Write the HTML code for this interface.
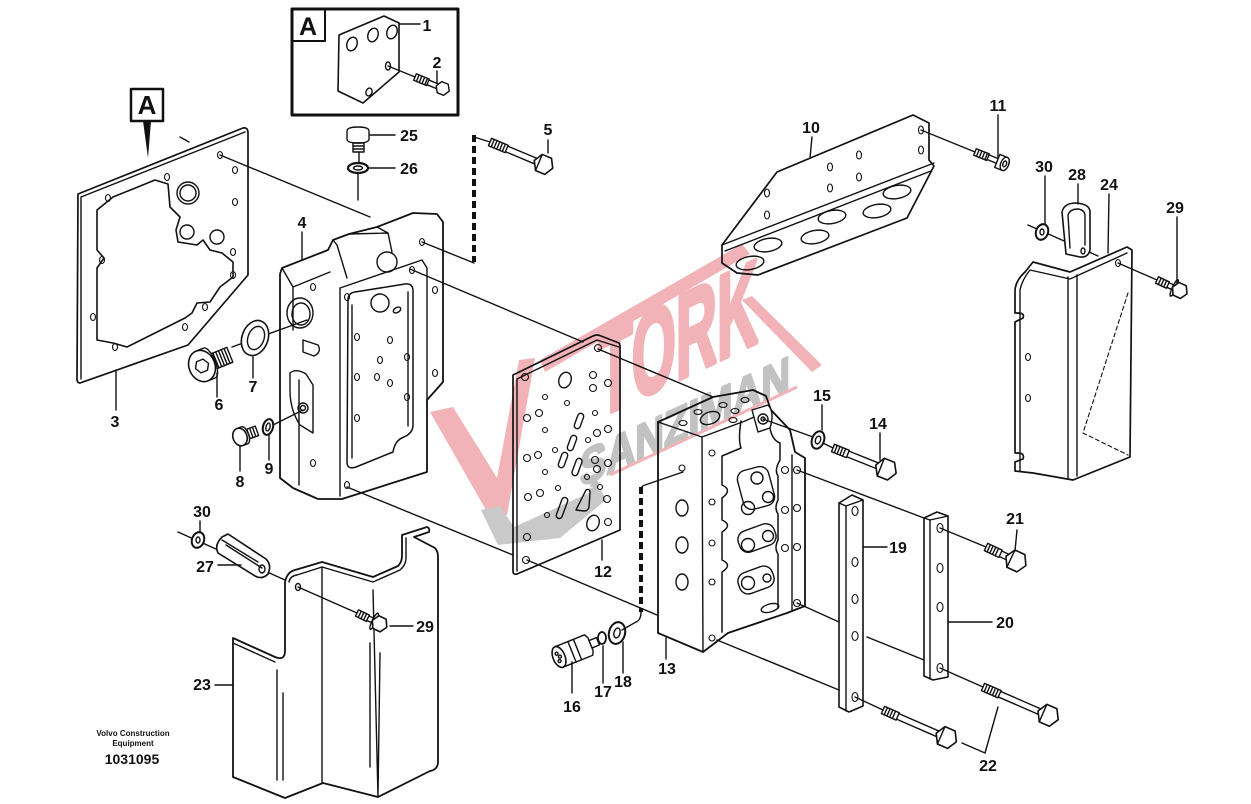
<!DOCTYPE html>
<html><head><meta charset="utf-8">
<style>
html,body{margin:0;padding:0;background:#fff;}
svg{display:block}
.lb{font-family:"Liberation Sans",Arial,sans-serif;font-weight:bold;font-size:16px;fill:#111;text-anchor:middle}
</style></head><body>
<svg width="1251" height="804" viewBox="0 0 1251 804" xmlns="http://www.w3.org/2000/svg">
<rect width="1251" height="804" fill="#fff"/>

<!-- watermark -->
<g>
 <polygon fill="#f2b3b8" points="430,412 453,407 497,478 519,360 535,358 507,515 490,517"/>
 <polygon fill="#f2b3b8" points="465,450 478,447 495,475 490,490"/>
 <polygon fill="#f2b3b8" points="540,360 742,244 750,254 545,372"/>
 <polygon fill="#f2b3b8" points="742,300 752,296 822,365 812,372"/>
 <text transform="translate(598,418) skewY(-25.5)" font-family="Liberation Sans, Arial, sans-serif" font-weight="bold" font-size="120" textLength="160" lengthAdjust="spacingAndGlyphs" fill="#f2b3b8" stroke="#f2b3b8" stroke-width="5" stroke-linejoin="round">TORK</text>
 <polygon fill="#c9c9c9" points="481,510 500,506 514,527 600,488 606,500 560,538 498,545"/>
 <text transform="translate(580,487) skewY(-24.7)" font-family="Liberation Sans, Arial, sans-serif" font-weight="bold" font-size="50" textLength="210" lengthAdjust="spacingAndGlyphs" fill="#c2c2c2" stroke="#c2c2c2" stroke-width="2.5" stroke-linejoin="round">ŞANZIMAN</text>
 <line x1="610" y1="475" x2="797" y2="387" stroke="#f2b3b8" stroke-width="3"/>
</g>

<g fill="none" stroke="#111" stroke-width="1.4" stroke-linejoin="round" stroke-linecap="round">

<!-- inset A -->
<rect x="292" y="9" width="166" height="106" stroke-width="3"/>
<rect x="292" y="9" width="33" height="32" stroke-width="2"/>
<path d="M339,35 L384,16 L399,23 L399,72 L363,103 L338,91 Z" stroke-width="1.6"/>
<ellipse cx="352" cy="44" rx="5" ry="7" transform="rotate(20 352 44)"/>
<ellipse cx="373" cy="35" rx="5" ry="7" transform="rotate(20 373 35)"/>
<ellipse cx="392" cy="32" rx="5" ry="7" transform="rotate(20 392 32)"/>
<ellipse cx="388" cy="66" rx="2.5" ry="4"/>
<ellipse cx="369" cy="92" rx="3" ry="4" transform="rotate(20 369 92)"/>
<line x1="399" y1="24" x2="420" y2="24"/>
<line x1="388" y1="66" x2="415" y2="77"/>
<line x1="437" y1="71" x2="437" y2="83"/>
<g transform="translate(415,77) rotate(22.5)">
 <rect x="0" y="-3.5" width="14" height="7" fill="#fff"/>
 <path d="M3,-3.5 L3,3.5 M6,-3.5 L6,3.5 M9,-3.5 L9,3.5 M12,-3.5 L12,3.5"/>
 <path d="M14,-2.5 L24,-2.5 M14,2.5 L24,2.5"/>
 <polygon points="37,0 33.5,6 26.5,6 23,0 26.5,-6 33.5,-6" fill="#fff"/>
</g>

<!-- big A label -->
<rect x="131" y="89" width="32" height="32" stroke-width="2.5"/>
<polygon points="143,121 151,121 148,158" fill="#111" stroke="none"/>
<line x1="180" y1="137" x2="189" y2="142"/>

<!-- gasket 3 -->
<path d="M78,194 L243,128 Q248,127 248,133 L248,275 L188,345 L80,383 Q77,383 77,379 Z" stroke-width="1.7"/>
<path d="M81,197 L245,132 M81,197 L81,379"/>
<path d="M97,210 L113,197 L155,180 L168,184 L170,207 L180,217 L176,230 L178,242 L197,245 L203,240 L210,250 L222,253 L233,262 L233,277 L220,287 L210,302 L197,303 L192,313 L185,318 L127,347 L113,343 L97,340 L97,268 L104,258 L97,250 Z" stroke-width="1.6"/>
<circle cx="188" cy="193" r="11"/><circle cx="188" cy="193" r="8"/>
<circle cx="187" cy="232" r="7"/><circle cx="217" cy="237" r="7"/>
<g stroke-width="1.1">
<ellipse cx="220" cy="155" rx="2.5" ry="3.5"/><ellipse cx="235" cy="170" rx="2.5" ry="3.5"/>
<ellipse cx="235" cy="202" rx="2.5" ry="3.5"/><ellipse cx="167" cy="177" rx="2.5" ry="3.5"/>
<ellipse cx="108" cy="198" rx="2.5" ry="3.5"/><ellipse cx="102" cy="260" rx="2.5" ry="3.5"/>
<ellipse cx="93" cy="317" rx="2.5" ry="3.5"/><ellipse cx="115" cy="347" rx="2.5" ry="3.5"/>
<ellipse cx="185" cy="327" rx="2.5" ry="3.5"/><ellipse cx="205" cy="307" rx="2.5" ry="3.5"/>
<ellipse cx="233" cy="252" rx="2.5" ry="3.5"/><ellipse cx="233" cy="275" rx="2.5" ry="3.5"/>
</g>
<line x1="116" y1="370" x2="116" y2="410"/>
<line x1="220" y1="155" x2="370" y2="217"/>

<!-- valve body 4 -->
<path d="M282,268 L328,250 L333,240 L349,234 L377,227 L413,213 L437,214 L443,222 L443,382 L427,400 L427,472 L342,499 L318,499 L293,488 L280,478 L280,274 Z" stroke-width="1.8"/>
<path d="M340,288 L340,496 M340,288 L422,260 L427,268 L427,400"/>
<path d="M293,287 L293,330 M299,380 L299,485 M282,268 L293,287 L330,272"/>
<path d="M333,240 L337,245 L347,278 M349,234 L388,233 L392,252 M377,227 L388,233"/>
<path d="M348,300 Q348,293 355,292 L405,284 Q413,283 413,291 L413,425 Q413,433 404,437 Q395,440 393,452 L356,467 Q347,470 347,462 Z" stroke-width="1.5"/>
<path d="M352,305 L352,458 M408,292 L408,426"/>
<ellipse cx="300" cy="313" rx="13" ry="15"/><ellipse cx="301" cy="314" rx="9" ry="11"/>
<path d="M303,340 L318,345 Q322,352 314,356 L303,352 Z"/>
<path d="M290,373 Q296,368 306,374 L313,385 L313,433 L300,425 Q290,410 290,390 Z"/>
<circle cx="303" cy="408" r="5"/><circle cx="303" cy="408" r="2.5"/>
<circle cx="387" cy="262" r="10"/><circle cx="380" cy="303" r="9"/>
<ellipse cx="397" cy="310" rx="4" ry="2.5" transform="rotate(-30 397 310)"/>
<g stroke-width="1.1">
<ellipse cx="313" cy="287" rx="2.5" ry="3.5"/><ellipse cx="347" cy="297" rx="2.5" ry="3.5"/>
<ellipse cx="435" cy="290" rx="2.5" ry="3.5"/><ellipse cx="435" cy="373" rx="2.5" ry="3.5"/>
<ellipse cx="313" cy="463" rx="2.5" ry="3.5"/><ellipse cx="347" cy="485" rx="2.5" ry="3.5"/>
<ellipse cx="422" cy="242" rx="2.5" ry="3.5"/><ellipse cx="412" cy="270" rx="2.5" ry="3.5"/>
<ellipse cx="357" cy="337" rx="2.5" ry="3.5"/><ellipse cx="390" cy="340" rx="2.5" ry="3.5"/>
<ellipse cx="380" cy="360" rx="2.5" ry="3.5"/><ellipse cx="407" cy="357" rx="2.5" ry="3.5"/>
<ellipse cx="357" cy="377" rx="2.5" ry="3.5"/><ellipse cx="377" cy="377" rx="2.5" ry="3.5"/>
<ellipse cx="390" cy="383" rx="2.5" ry="3.5"/><ellipse cx="407" cy="397" rx="2.5" ry="3.5"/>
<ellipse cx="357" cy="418" rx="2.5" ry="3.5"/>
</g>
<line x1="302" y1="232" x2="302" y2="259"/>

<!-- 25 / 26 -->
<path d="M347,131 Q347,127 358,127 Q369,127 369,131 L369,139 Q369,143 358,143 Q347,143 347,139 Z" fill="#fff"/>
<rect x="353" y="143" width="11" height="9"/>
<path d="M353,146 L364,146 M353,149 L364,149"/>
<line x1="359" y1="152" x2="359" y2="163"/>
<ellipse cx="358" cy="168" rx="10" ry="5" stroke-width="2.2"/>
<ellipse cx="358" cy="168" rx="4.5" ry="2"/>
<line x1="358" y1="174" x2="358" y2="200"/>
<line x1="370" y1="135" x2="395" y2="135"/>
<line x1="368" y1="168" x2="395" y2="168"/>

<!-- dashed 1 + bolt 5 -->
<line x1="474" y1="135" x2="474" y2="262" stroke-width="4" stroke-dasharray="7 4" stroke-linecap="butt"/>
<line x1="474" y1="137" x2="490" y2="142"/>
<line x1="422" y1="242" x2="474" y2="263"/>
<g transform="translate(490,142) rotate(22.7)">
 <rect x="0" y="-4" width="18" height="8" fill="#fff"/>
 <path d="M3,-4 L3,4 M6,-4 L6,4 M9,-4 L9,4 M12,-4 L12,4 M15,-4 L15,4"/>
 <path d="M18,-3 L50,-3 M18,3 L50,3"/>
 <polygon points="68,0 63,8.7 53,8.7 48,0 53,-8.7 63,-8.7" fill="#fff" stroke-width="1.6"/>
 <path d="M53,-8.7 L53,8.7"/>
</g>
<line x1="548" y1="140" x2="548" y2="153"/>

<!-- 6 plug -->
<g transform="translate(202,366) rotate(-22)">
 <rect x="12" y="-8" width="18" height="16" fill="#fff"/>
 <path d="M15,-8 L15,8 M18,-8 L18,8 M21,-8 L21,8 M24,-8 L24,8 M27,-8 L27,8"/>
 <path d="M0,-16 L8,-16 A6,16 0 0 1 8,16 L0,16" fill="#fff"/>
 <ellipse cx="0" cy="0" rx="13" ry="16" fill="#fff" stroke-width="1.6"/>
 <polygon points="7,0 3.5,6 -3.5,6 -7,0 -3.5,-6 3.5,-6"/>
</g>
<line x1="232" y1="347" x2="307" y2="320"/>
<line x1="217" y1="373" x2="217" y2="397"/>
<!-- 7 seal -->
<ellipse cx="255" cy="338" rx="13" ry="18" transform="rotate(20 255 338)" fill="#fff" stroke-width="1.6"/>
<ellipse cx="256" cy="338" rx="8" ry="12" transform="rotate(20 256 338)"/>
<line x1="253" y1="357" x2="253" y2="378"/>
<!-- 8 -->
<g transform="translate(240,437) rotate(-20)">
 <rect x="6" y="-5" width="12" height="10" fill="#fff"/>
 <path d="M9,-5 L9,5 M12,-5 L12,5 M15,-5 L15,5"/>
 <path d="M0,-9 L5,-9 A4,9 0 0 1 5,9 L0,9" fill="#fff"/>
 <ellipse cx="0" cy="0" rx="7" ry="9" fill="#fff" stroke-width="1.6"/>
</g>
<!-- 9 -->
<ellipse cx="268" cy="427" rx="5" ry="8" transform="rotate(15 268 427)" stroke-width="2"/>
<ellipse cx="268" cy="427" rx="2" ry="4" transform="rotate(15 268 427)"/>
<line x1="273" y1="425" x2="303" y2="410"/>
<line x1="240" y1="446" x2="240" y2="471"/>
<line x1="269" y1="435" x2="269" y2="460"/>

<!-- long connection lines -->
<line x1="410" y1="269" x2="583" y2="342"/>
<line x1="598" y1="349" x2="713" y2="397"/>
<line x1="347" y1="487" x2="513" y2="555"/>
<line x1="527" y1="560" x2="657" y2="615"/>

<!-- plate 12 -->
<path d="M513,375 L593,336 Q597,334 601,336 L619,343 Q620,344 620,347 L620,530 L517,574 Q513,575 513,571 Z" stroke-width="1.7"/>
<path d="M517,379 L597,340 L619,347 M517,379 L517,571"/>
<g stroke-width="1.1">
<circle cx="525" cy="377" r="3.5"/><circle cx="593" cy="375" r="3.5"/><circle cx="608" cy="383" r="3.5"/>
<circle cx="593" cy="388" r="3.5"/><circle cx="545" cy="397" r="2.5"/><circle cx="567" cy="403" r="2.5"/>
<circle cx="595" cy="413" r="2.5"/><circle cx="527" cy="418" r="3.5"/><circle cx="539" cy="413" r="3.5"/>
<circle cx="545" cy="430" r="2.5"/><circle cx="597" cy="433" r="3.5"/><circle cx="608" cy="429" r="3.5"/>
<circle cx="588" cy="440" r="2.5"/><circle cx="527" cy="458" r="3.5"/><circle cx="538" cy="455" r="3.5"/>
<circle cx="555" cy="450" r="2.5"/><circle cx="595" cy="460" r="3.5"/><circle cx="608" cy="463" r="3.5"/>
<circle cx="545" cy="472" r="2.5"/><circle cx="597" cy="469" r="3.5"/><circle cx="587" cy="477" r="2.5"/>
<circle cx="528" cy="497" r="3.5"/><circle cx="540" cy="493" r="3.5"/><circle cx="558" cy="488" r="2.5"/>
<circle cx="600" cy="487" r="2.5"/><circle cx="607" cy="499" r="3.5"/><circle cx="547" cy="515" r="2.5"/>
<circle cx="608" cy="522" r="3.5"/><circle cx="527" cy="537" r="3.5"/><circle cx="526" cy="560" r="3.5"/>
<circle cx="598" cy="348" r="3.5"/>
</g>
<ellipse cx="565" cy="380" rx="6" ry="8" transform="rotate(20 565 380)"/>
<ellipse cx="593" cy="523" rx="6" ry="8" transform="rotate(20 593 523)"/>
<rect x="576" y="413" width="6" height="16" rx="3" transform="rotate(20 579 421)"/>
<rect x="569" y="435" width="6" height="16" rx="3" transform="rotate(20 572 443)"/>
<rect x="560" y="452" width="6" height="16" rx="3" transform="rotate(20 563 460)"/>
<rect x="574" y="458" width="6" height="18" rx="3" transform="rotate(20 577 467)"/>
<rect x="559" y="497" width="6" height="22" rx="3" transform="rotate(20 562 508)"/>
<path d="M576,510 L586,490 Q590,488 590,493 L589,507 Q588,511 584,511 Z"/>
<line x1="602" y1="540" x2="602" y2="560"/>

<!-- dashed 2 -->
<line x1="641" y1="487" x2="641" y2="612" stroke-width="4" stroke-dasharray="7 4" stroke-linecap="butt"/>
<path d="M683,472 L645,485 Q641,486 641,490"/>
<path d="M641,612 Q641,620 636,622 L622,630"/>

<!-- sensor 16-18 -->
<g transform="translate(559,657) rotate(-22)">
 <path d="M0,-11 L32,-11 L34,-7 L34,7 L32,11 L0,11" fill="#fff"/>
 <ellipse cx="0" cy="0" rx="6" ry="11" fill="#fff" stroke-width="1.6"/>
 <circle cx="-1" cy="-4" r="1.5"/><circle cx="-1" cy="4" r="1.5"/><circle cx="1" cy="0" r="1.5"/>
 <path d="M14,-11 L14,11 M20,-11 L20,11"/>
 <rect x="34" y="-4" width="8" height="8" fill="#fff"/>
</g>
<ellipse cx="602" cy="638" rx="4" ry="6" stroke-width="1.8"/>
<ellipse cx="617" cy="633" rx="8" ry="11" transform="rotate(15 617 633)" stroke-width="2"/>
<ellipse cx="617" cy="633" rx="3" ry="5" transform="rotate(15 617 633)"/>
<line x1="572" y1="662" x2="572" y2="693"/>
<line x1="603" y1="646" x2="603" y2="683"/>
<line x1="623" y1="642" x2="623" y2="673"/>

<!-- block 13 -->
<path d="M658,422 L713,397 L753,390 L766,396 L771,410 L790,430 L795,452 L805,458 L805,606 L787,613 L728,633 L703,652 L658,633 Z" stroke-width="1.8"/>
<path d="M702,437 L703,652 M658,422 L702,437 L745,421 L770,410"/>
<path d="M741,421 Q738,440 741,448 L722,456 L722,485 Q733,490 722,498 L722,520 Q733,525 722,532 L722,560 Q733,565 722,572 L722,632" stroke-width="1.5"/>
<path d="M770,428 Q772,440 780,443 L780,460 Q774,470 778,476 L778,500 Q774,508 778,514 L778,540 Q774,548 778,554 L778,608" stroke-width="1.5"/>
<path d="M792,455 L792,610"/>
<path d="M752,410 L768,405 Q775,412 770,428 L758,432 Z" fill="#fff"/>
<circle cx="763" cy="419" r="5"/><circle cx="763" cy="419" r="2"/>
<ellipse cx="710" cy="418" rx="10" ry="6" transform="rotate(-20 710 418)"/>
<g stroke-width="1.1">
<ellipse cx="683" cy="423" rx="4" ry="2.5"/><ellipse cx="698" cy="412" rx="4" ry="2.5"/>
<ellipse cx="723" cy="405" rx="4" ry="2.5"/><ellipse cx="735" cy="411" rx="4" ry="2.5"/>
<ellipse cx="745" cy="400" rx="4" ry="2.5"/><ellipse cx="733" cy="420" rx="4" ry="2.5"/>
<circle cx="712" cy="453" r="3"/><circle cx="712" cy="502" r="3"/><circle cx="712" cy="543" r="3"/>
<circle cx="712" cy="582" r="3"/><circle cx="712" cy="638" r="3"/>
<circle cx="785" cy="470" r="3.5"/><circle cx="797" cy="470" r="3.5"/>
<circle cx="785" cy="510" r="3.5"/><circle cx="797" cy="508" r="3.5"/>
<circle cx="785" cy="548" r="3.5"/><circle cx="797" cy="547" r="3.5"/>
<circle cx="797" cy="603" r="3.5"/>
<circle cx="682" cy="468" r="3"/>
</g>
<ellipse cx="682" cy="508" rx="6" ry="8"/><ellipse cx="682" cy="545" rx="6" ry="8"/><ellipse cx="682" cy="582" rx="6" ry="8"/>
<ellipse cx="770" cy="608" rx="9" ry="4" transform="rotate(-15 770 608)"/>
<rect x="740" y="468" width="32" height="40" rx="9" transform="rotate(-15 756 488)"/>
<rect x="738" y="527" width="38" height="22" rx="9" transform="rotate(-20 757 538)"/>
<rect x="738" y="569" width="36" height="22" rx="9" transform="rotate(-20 756 580)"/>
<circle cx="757" cy="478" r="6"/><circle cx="768" cy="497" r="5.5"/><circle cx="748" cy="508" r="6.5"/>
<circle cx="748" cy="545" r="6.5"/><circle cx="768" cy="536" r="5.5"/>
<circle cx="748" cy="583" r="6.5"/><circle cx="767" cy="578" r="4"/>
<line x1="666" y1="638" x2="666" y2="659"/>

<!-- 15 / 14 -->
<line x1="763" y1="419" x2="813" y2="437"/>
<ellipse cx="818" cy="440" rx="6" ry="9" transform="rotate(20 818 440)" stroke-width="2"/>
<ellipse cx="818" cy="440" rx="2.5" ry="4" transform="rotate(20 818 440)"/>
<line x1="823" y1="443" x2="833" y2="448"/>
<g transform="translate(833,448) rotate(21.8)">
 <rect x="0" y="-4" width="16" height="8" fill="#fff"/>
 <path d="M3,-4 L3,4 M6,-4 L6,4 M9,-4 L9,4 M12,-4 L12,4"/>
 <path d="M16,-3 L48,-3 M16,3 L48,3"/>
 <polygon points="68,0 62.5,9.5 51.5,9.5 46,0 51.5,-9.5 62.5,-9.5" fill="#fff" stroke-width="1.6"/>
 <path d="M51.5,-9.5 L51.5,9.5"/>
</g>
<line x1="822" y1="405" x2="822" y2="430"/>
<line x1="880" y1="433" x2="880" y2="460"/>

<!-- bars 19 / 20 -->
<path d="M839,503 L852,495 L863,500 L863,706 L849,712 L839,707 Z" fill="#fff" stroke-width="1.6"/>
<path d="M846,506 L846,711 M839,503 L846,506 L863,500"/>
<path d="M924,518 L937,512 L948,516 L948,677 L933,680 L924,676 Z" fill="#fff" stroke-width="1.6"/>
<path d="M930,520 L930,679 M924,518 L930,520 L948,516"/>
<g stroke-width="1.1">
<ellipse cx="855" cy="511" rx="3" ry="4.5"/><ellipse cx="855" cy="562" rx="3" ry="4.5"/>
<ellipse cx="855" cy="599" rx="3" ry="4.5"/><ellipse cx="855" cy="636" rx="3" ry="4.5"/>
<ellipse cx="855" cy="697" rx="3" ry="4.5"/>
<ellipse cx="940" cy="528" rx="3" ry="4.5"/><ellipse cx="940" cy="568" rx="3" ry="4.5"/>
<ellipse cx="940" cy="607" rx="3" ry="4.5"/><ellipse cx="940" cy="668" rx="3" ry="4.5"/>
</g>
<line x1="797" y1="470" x2="924" y2="518"/>
<line x1="797" y1="603" x2="839" y2="622"/>
<line x1="867" y1="637" x2="924" y2="660"/>
<line x1="717" y1="640" x2="839" y2="690"/>
<line x1="863" y1="547" x2="887" y2="547"/>
<line x1="948" y1="622" x2="992" y2="622"/>

<!-- 21 -->
<line x1="940" y1="528" x2="986" y2="547"/>
<g transform="translate(986,547) rotate(25)">
 <rect x="0" y="-4" width="16" height="8" fill="#fff"/>
 <path d="M3,-4 L3,4 M6,-4 L6,4 M9,-4 L9,4 M12,-4 L12,4"/>
 <path d="M16,-3 L24,-3 M16,3 L24,3"/>
 <polygon points="44,0 38.5,9.5 27.5,9.5 22,0 27.5,-9.5 38.5,-9.5" fill="#fff" stroke-width="1.6"/>
 <path d="M27.5,-9.5 L27.5,9.5"/>
</g>
<line x1="1017" y1="530" x2="1015" y2="551"/>

<!-- 22 -->
<line x1="940" y1="668" x2="983" y2="687"/>
<g transform="translate(983,687) rotate(23.5)">
 <rect x="0" y="-4" width="18" height="8" fill="#fff"/>
 <path d="M3,-4 L3,4 M6,-4 L6,4 M9,-4 L9,4 M12,-4 L12,4 M15,-4 L15,4"/>
 <path d="M18,-3 L62,-3 M18,3 L62,3"/>
 <polygon points="82,0 76.5,9.5 65.5,9.5 60,0 65.5,-9.5 76.5,-9.5" fill="#fff" stroke-width="1.6"/>
 <path d="M65.5,-9.5 L65.5,9.5"/>
</g>
<line x1="855" y1="697" x2="883" y2="710"/>
<g transform="translate(883,710) rotate(23.5)">
 <rect x="0" y="-4" width="16" height="8" fill="#fff"/>
 <path d="M3,-4 L3,4 M6,-4 L6,4 M9,-4 L9,4 M12,-4 L12,4"/>
 <path d="M16,-3 L60,-3 M16,3 L60,3"/>
 <polygon points="80,0 74.5,9.5 63.5,9.5 58,0 63.5,-9.5 74.5,-9.5" fill="#fff" stroke-width="1.6"/>
 <path d="M63.5,-9.5 L63.5,9.5"/>
</g>
<path d="M998,707 L985,753 L962,743"/>

<!-- bracket 10 -->
<path d="M722,245 L777,172 L913,115 L929,123 L929,160 L934,166 L907,218 L758,275 L737,273 L722,263 Z" stroke-width="1.7"/>
<path d="M722,245 L934,163 M725,251 L931,171"/>
<g stroke-width="1.1">
<ellipse cx="921" cy="130" rx="2.5" ry="4"/><ellipse cx="921" cy="150" rx="2.5" ry="4"/>
<ellipse cx="859" cy="155" rx="2.5" ry="4"/><ellipse cx="830" cy="167" rx="2.5" ry="4"/>
<ellipse cx="859" cy="177" rx="2.5" ry="4"/><ellipse cx="830" cy="188" rx="2.5" ry="4"/>
<ellipse cx="767" cy="193" rx="2.5" ry="4"/><ellipse cx="767" cy="215" rx="2.5" ry="4"/>
</g>
<ellipse cx="750" cy="263" rx="14" ry="6.5" transform="rotate(-10 750 263)"/>
<ellipse cx="768" cy="245" rx="14" ry="6.5" transform="rotate(-10 768 245)"/>
<ellipse cx="815" cy="237" rx="14" ry="6.5" transform="rotate(-10 815 237)"/>
<ellipse cx="832" cy="217" rx="14" ry="6.5" transform="rotate(-10 832 217)"/>
<ellipse cx="877" cy="211" rx="14" ry="6.5" transform="rotate(-10 877 211)"/>
<ellipse cx="897" cy="192" rx="14" ry="6.5" transform="rotate(-10 897 192)"/>
<line x1="812" y1="137" x2="810" y2="158"/>

<!-- 11 -->
<line x1="921" y1="130" x2="975" y2="152"/>
<g transform="translate(975,152) rotate(21.8)">
 <rect x="0" y="-3.5" width="14" height="7" fill="#fff"/>
 <path d="M3,-3.5 L3,3.5 M6,-3.5 L6,3.5 M9,-3.5 L9,3.5 M12,-3.5 L12,3.5"/>
 <path d="M14,-2.5 L24,-2.5 M14,2.5 L24,2.5"/>
 <path d="M24,-7 L32,-7 A4,7 0 0 1 32,7 L24,7 Z" fill="#fff"/>
 <ellipse cx="32" cy="0" rx="4" ry="7" fill="#fff"/>
 <ellipse cx="32" cy="0" rx="1.8" ry="3"/>
</g>
<line x1="998" y1="115" x2="998" y2="158"/>

<!-- bracket 24 -->
<path d="M1015,290 Q1016,280 1025,272 L1033,262 L1070,272 L1127,247 L1132,250 L1130,457 L1073,480 L1033,473 L1015,471 L1015,462 L1023,459 Q1025,453 1018,453 L1015,453 L1015,322 L1023,318 Q1025,313 1018,313 L1015,313 Z" stroke-width="1.7"/>
<path d="M1020,290 Q1022,280 1030,270 L1070,279 L1127,253 M1020,290 L1020,471 M1068,277 L1068,478 M1077,275 L1077,476"/>
<path d="M1128,293 L1083,433 L1128,455" stroke-dasharray="4 3" stroke-width="1.1"/>
<g stroke-width="1.1">
<ellipse cx="1028" cy="357" rx="2.5" ry="3.5"/><ellipse cx="1028" cy="398" rx="2.5" ry="3.5"/>
<ellipse cx="1118" cy="263" rx="2.5" ry="3.5"/>
</g>
<line x1="1109" y1="194" x2="1108" y2="253"/>
<!-- 28 clip, 30 washer -->
<line x1="1028" y1="225" x2="1098" y2="256"/>
<path d="M1066,254 L1062,212 Q1064,203 1076,203 Q1090,204 1090,212 L1090,250 Q1088,258 1080,257 Z" fill="#fff" stroke-width="1.6"/>
<path d="M1070,248 L1068,215 Q1070,209 1078,209 Q1085,210 1085,216 L1085,245"/>
<ellipse cx="1083" cy="251" rx="2" ry="3"/>
<ellipse cx="1042" cy="232" rx="6" ry="8" transform="rotate(20 1042 232)" fill="#fff" stroke-width="2"/>
<ellipse cx="1042" cy="232" rx="2" ry="3"/>
<line x1="1045" y1="176" x2="1045" y2="224"/>
<line x1="1078" y1="184" x2="1078" y2="204"/>
<!-- 29 right -->
<line x1="1118" y1="263" x2="1157" y2="280"/>
<g transform="translate(1157,280) rotate(24.8)">
 <rect x="0" y="-3.5" width="12" height="7" fill="#fff"/>
 <path d="M3,-3.5 L3,3.5 M6,-3.5 L6,3.5 M9,-3.5 L9,3.5"/>
 <path d="M12,-2.5 L18,-2.5 M12,2.5 L18,2.5"/>
 <ellipse cx="19" cy="0" rx="2" ry="9" fill="#fff"/>
 <polygon points="33,0 29,7 21,7 17,0 21,-7 29,-7" fill="#fff" stroke-width="1.6"/>
</g>
<line x1="1177" y1="217" x2="1177" y2="283"/>

<!-- cover 23 -->
<path d="M233,638 L275,657 Q285,661 285,651 L285,582 Q287,572 295,570 L322,562 L373,577 L398,566 Q402,562 402,556 L402,535 L427,527 Q430,528 429,532 L414,537 L435,548 Q438,551 438,557 L438,763 Q437,770 430,771 L378,797 L323,783 L285,798 L233,777 Z" stroke-width="1.8"/>
<path d="M233,643 L275,662 M289,582 Q290,576 297,575 L322,567 L373,582 L400,570 Q406,565 406,558 L406,538"/>
<path d="M322,567 L322,783 M373,590 L378,797 M277,670 L277,780 M283,693 L283,780 M370,643 L370,767 M380,653 L378,795"/>
<line x1="215" y1="685" x2="232" y2="685"/>
<!-- 27 clip, 30 washer -->
<line x1="178" y1="532" x2="285" y2="580"/>
<path d="M222,537 L228,534 L266,559 Q272,565 268,574 Q262,580 255,576 L218,553 Q214,545 222,537 Z" fill="#fff" stroke-width="1.6"/>
<path d="M226,545 L262,568 M222,540 L258,562"/>
<ellipse cx="262" cy="569" rx="3" ry="4"/>
<ellipse cx="198" cy="540" rx="6" ry="8" transform="rotate(20 198 540)" fill="#fff" stroke-width="2"/>
<ellipse cx="198" cy="540" rx="2" ry="3"/>
<line x1="200" y1="521" x2="200" y2="532"/>
<line x1="218" y1="565" x2="241" y2="565"/>
<!-- 29 left -->
<ellipse cx="298" cy="587" rx="2.5" ry="3.5"/>
<line x1="298" y1="587" x2="357" y2="613"/>
<g transform="translate(357,613) rotate(25.6)">
 <rect x="0" y="-3.5" width="12" height="7" fill="#fff"/>
 <path d="M3,-3.5 L3,3.5 M6,-3.5 L6,3.5 M9,-3.5 L9,3.5"/>
 <path d="M12,-2.5 L18,-2.5 M12,2.5 L18,2.5"/>
 <ellipse cx="19" cy="0" rx="2" ry="9" fill="#fff"/>
 <polygon points="33,0 29,7 21,7 17,0 21,-7 29,-7" fill="#fff" stroke-width="1.6"/>
</g>
<line x1="390" y1="626" x2="413" y2="626"/>
</g>

<!-- labels -->
<g>
<text class="lb" x="308" y="35" style="font-size:25px">A</text>
<text class="lb" x="147" y="114" style="font-size:26px">A</text>
<text class="lb" x="427" y="31">1</text>
<text class="lb" x="437" y="68">2</text>
<text class="lb" x="409" y="141">25</text>
<text class="lb" x="409" y="174">26</text>
<text class="lb" x="548" y="135">5</text>
<text class="lb" x="302" y="228">4</text>
<text class="lb" x="115" y="427">3</text>
<text class="lb" x="219" y="410">6</text>
<text class="lb" x="253" y="392">7</text>
<text class="lb" x="240" y="487">8</text>
<text class="lb" x="269" y="474">9</text>
<text class="lb" x="811" y="133">10</text>
<text class="lb" x="998" y="111">11</text>
<text class="lb" x="1044" y="172">30</text>
<text class="lb" x="1077" y="180">28</text>
<text class="lb" x="1109" y="190">24</text>
<text class="lb" x="1175" y="213">29</text>
<text class="lb" x="822" y="401">15</text>
<text class="lb" x="878" y="429">14</text>
<text class="lb" x="603" y="577">12</text>
<text class="lb" x="667" y="674">13</text>
<text class="lb" x="898" y="553">19</text>
<text class="lb" x="1005" y="628">20</text>
<text class="lb" x="1015" y="524">21</text>
<text class="lb" x="988" y="771">22</text>
<text class="lb" x="202" y="517">30</text>
<text class="lb" x="205" y="572">27</text>
<text class="lb" x="425" y="632">29</text>
<text class="lb" x="202" y="690">23</text>
<text class="lb" x="572" y="712">16</text>
<text class="lb" x="603" y="697">17</text>
<text class="lb" x="623" y="687">18</text>
<text class="lb" x="133" y="736" style="font-size:8px">Volvo Construction</text>
<text class="lb" x="133" y="746" style="font-size:8px">Equipment</text>
<text class="lb" x="132" y="764" style="font-size:14px">1031095</text>
</g>
</svg>
</body></html>
